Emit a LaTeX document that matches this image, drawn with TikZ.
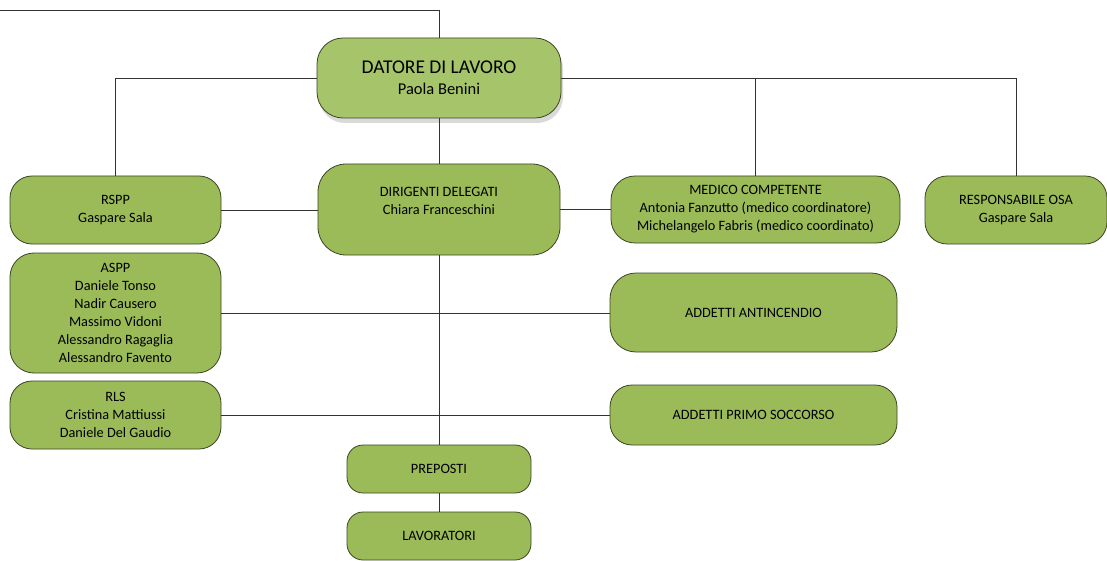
\documentclass[tikz,border=0pt]{standalone}
\usepackage{fontspec}
\setmainfont{Carlito}
\usetikzlibrary{shadows}

\definecolor{leafgreen}{HTML}{9BBB59}
\definecolor{headgreen}{HTML}{A6C46A}
\definecolor{rimgreen}{HTML}{3A4623}

\begin{document}
\begin{tikzpicture}[x=1pt, y=-1pt,
    unitbox/.style={draw=rimgreen, fill=leafgreen, line width=0.8pt, align=center,
      font=\fontsize{14.3}{18}\selectfont, inner sep=2pt},
    headbox/.style={unitbox, fill=headgreen, rounded corners=26pt,
      minimum width=244pt, minimum height=80pt,
      drop shadow={opacity=0.3, shadow xshift=2pt, shadow yshift=-5pt}},
    link/.style={draw=black!80, line width=0.8pt}]
  \useasboundingbox (0,0) rectangle (1107,561);

  % Top of the chart
  \node[headbox] (datore) at (439,78)
    {{\fontsize{19.5}{24}\selectfont DATORE DI LAVORO}\\[3pt]{\fontsize{16.5}{20}\selectfont Paola Benini}};

  % Staff functions
  \node[unitbox, rounded corners=22pt, minimum width=211pt, minimum height=68pt] (rspp) at (115.5,210)
    {RSPP\\Gaspare Sala};
  \node[unitbox, rounded corners=28pt, minimum width=242pt, minimum height=91pt] (dirigenti) at (439,209.5)
    {DIRIGENTI DELEGATI\\Chiara Franceschini\\\mbox{}};
  \node[unitbox, rounded corners=24pt, minimum width=289pt, minimum height=67pt] (medico) at (755.5,209.5)
    {MEDICO COMPETENTE\\Antonia Fanzutto (medico coordinatore)\\Michelangelo Fabris (medico coordinato)};
  \node[unitbox, rounded corners=22pt, minimum width=182pt, minimum height=68pt] (osa) at (1016,210)
    {RESPONSABILE OSA\\Gaspare Sala};

  % Left column
  \node[unitbox, rounded corners=24pt, minimum width=211pt, minimum height=120pt] (aspp) at (115.5,313)
    {ASPP\\Daniele Tonso\\Nadir Causero\\Massimo Vidoni\\Alessandro Ragaglia\\Alessandro Favento};
  \node[unitbox, rounded corners=22pt, minimum width=211pt, minimum height=68pt] (rls) at (115.5,415)
    {RLS\\Cristina Mattiussi\\Daniele Del Gaudio};

  % Right column
  \node[unitbox, rounded corners=26pt, minimum width=287pt, minimum height=79pt] (antincendio) at (753.5,312.5)
    {ADDETTI ANTINCENDIO};
  \node[unitbox, rounded corners=22pt, minimum width=287pt, minimum height=60pt] (soccorso) at (753.5,415)
    {ADDETTI PRIMO SOCCORSO};

  % Bottom of the chain
  \node[unitbox, rounded corners=16pt, minimum width=184pt, minimum height=48pt] (preposti) at (439,469)
    {PREPOSTI};
  \node[unitbox, rounded corners=16pt, minimum width=184pt, minimum height=48pt] (lavoratori) at (439,536)
    {LAVORATORI};

  % Connectors
  \coordinate (entry) at (0,10);
  \draw[link] (entry) -| (datore.north);
  \draw[link] (rspp.north) |- (datore.west);
  \draw[link] (datore.east) -| (osa.north);
  \draw[link] (medico.north) -- (medico.north |- datore.east);
  \draw[link] (rspp.east) -- (rspp.east -| dirigenti.west);
  \draw[link] (dirigenti.east) -- (medico.west);
  \draw[link] (aspp.east) -- (aspp.east -| antincendio.west);
  \draw[link] (rls.east) -- (soccorso.west);
  \draw[link] (datore) -- (dirigenti);
  \draw[link] (dirigenti) -- (preposti);
  \draw[link] (preposti) -- (lavoratori);
\end{tikzpicture}
\end{document}
